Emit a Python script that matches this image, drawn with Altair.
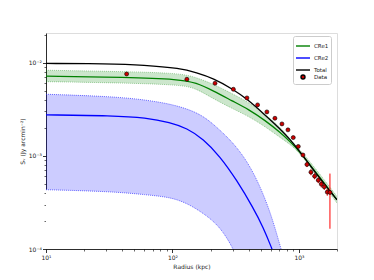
import math
import altair as alt
import pandas as pd

# ---- data ----
data_r = [43.4, 130, 217, 303, 388, 471, 558, 646, 734, 819, 902, 988, 1076,
          1157, 1245, 1331, 1422, 1503, 1586, 1675, 1759]
data_s = [7.56e-3, 6.63e-3, 6.01e-3, 5.18e-3, 4.18e-3, 3.52e-3, 2.96e-3, 2.53e-3,
          2.20e-3, 1.90e-3, 1.57e-3, 1.26e-3, 1.02e-3, 8.07e-4, 6.68e-4, 6.05e-4,
          5.48e-4, 4.97e-4, 4.65e-4, 4.08e-4, 4.05e-4]
data_err = [2.2e-4, 2.0e-4, 1.8e-4, 1.5e-4, 1.2e-4, 1.0e-4, 0.9e-4, 0.75e-4,
            0.65e-4, 0.55e-4, 0.45e-4, 0.4e-4, 0.35e-4, 5e-5, 5e-5, 4.5e-5,
            4e-5, 4e-5, 3.5e-5, 3.5e-5, 2.4e-4]

total_r = [10, 30, 60, 115, 155, 210, 300, 390, 520, 710, 850, 1020, 1380, 2000]
total_s = [9.8e-3, 9.75e-3, 9.45e-3, 8.7e-3, 7.8e-3, 6.8e-3, 5.2e-3, 4.05e-3,
           2.87e-3, 1.95e-3, 1.5e-3, 1.11e-3, 6.3e-4, 3.37e-4]

cre1_r = [10, 43, 115, 153, 210, 300, 400, 540, 720, 850, 1018, 1380, 2000]
cre1_s = [7.15e-3, 6.98e-3, 6.62e-3, 6.1e-3, 5.0e-3, 3.85e-3, 3.15e-3, 2.4e-3,
          1.76e-3, 1.42e-3, 1.11e-3, 6.5e-4, 3.37e-4]
cre1_lo = [6.25e-3, 6.05e-3, 5.77e-3, 5.32e-3, 4.1e-3, 3.2e-3, 2.65e-3, 2.06e-3,
           1.55e-3, 1.33e-3, 1.07e-3, 6.1e-4, 3.11e-4]
cre1_hi = [8.29e-3, 8.01e-3, 7.7e-3, 6.95e-3, 5.9e-3, 4.6e-3, 3.75e-3, 2.8e-3,
           2.0e-3, 1.51e-3, 1.16e-3, 7.08e-4, 3.66e-4]

cre2_r = [10, 33.6, 61.8, 96, 130, 175, 237, 322, 436, 523, 608, 650]
cre2_s = [2.75e-3, 2.7e-3, 2.57e-3, 2.28e-3, 1.98e-3, 1.52e-3, 9.9e-4, 5.5e-4,
          2.75e-4, 1.7e-4, 1.03e-4, 8e-5]

band2_r = [10, 33.6, 61.8, 95.6, 130, 175, 237, 322, 436, 590, 721, 760]
band2_hi = [4.58e-3, 4.33e-3, 3.98e-3, 3.6e-3, 3.2e-3, 2.7e-3, 1.9e-3, 1.26e-3,
            6.9e-4, 2.64e-4, 1.0e-4, 8e-5]
band2_lo_r = [10, 33.6, 61.8, 95.6, 130, 175, 237, 302, 320]
band2_lo = [4.33e-4, 4.14e-4, 3.82e-4, 3.6e-4, 3.11e-4, 2.43e-4, 1.75e-4, 1.02e-4, 8e-5]

series_names = ["CRe1", "CRe2", "Total", "Data"]
series_stroke = ["#008000", "#0000ff", "#000000", "#000000"]
series_fill = ["#008000", "#0000ff", "#000000", "#cc0000"]
series_shapes = ["stroke", "stroke", "stroke", "circle"]
series_sizes = [196, 196, 196, 16]

x_major = [10, 100, 1000]
x_major_labels = ["10¹", "10²", "10³"]
x_minor = [20, 30, 40, 50, 60, 70, 80, 90, 200, 300, 400, 500, 600, 700, 800, 900, 2000]
y_major = [1e-4, 1e-3, 1e-2]
y_major_labels = ["10⁻⁴", "10⁻³", "10⁻²"]
y_minor = [2e-4, 3e-4, 4e-4, 5e-4, 6e-4, 7e-4, 8e-4, 9e-4,
           2e-3, 3e-3, 4e-3, 5e-3, 6e-3, 7e-3, 8e-3, 9e-3, 2e-2]

x_domain = [10, 2000]
y_domain = [1e-4, 2.08e-2]

FONT = "DejaVu Sans"
CURVE = "basis"

# ---- tables ----
df_data = pd.DataFrame({"r": data_r, "s": data_s,
                        "lo": [s - e for s, e in zip(data_s, data_err)],
                        "hi": [s + e for s, e in zip(data_s, data_err)],
                        "series": "Data"})
df_lines = pd.concat([
    pd.DataFrame({"r": cre2_r, "s": cre2_s, "series": "CRe2"}),
    pd.DataFrame({"r": cre1_r, "s": cre1_s, "series": "CRe1"}),
    pd.DataFrame({"r": total_r, "s": total_s, "series": "Total"}),
])
df_band1 = pd.DataFrame({"r": cre1_r, "lo": cre1_lo, "hi": cre1_hi})
df_band2 = pd.concat([
    pd.DataFrame({"r": band2_r, "s": band2_hi, "edge": "hi"}),
    pd.DataFrame({"r": band2_lo_r, "s": band2_lo, "edge": "lo"}),
])

xs = alt.Scale(type="log", domain=x_domain, nice=False)
ys = alt.Scale(type="log", domain=y_domain, nice=False)

IS_MAJOR = "abs(log(datum.value)/log(10) - round(log(datum.value)/log(10))) < 0.001"


def lab_expr(vals, labels):
    parts = []
    for v, l in zip(vals, labels):
        parts.append(f"abs(log(datum.value)/log(10) - ({math.log10(v)})) < 0.001 ? '{l}'")
    return " : ".join(parts) + " : ''"


common = dict(grid=False, tickColor="#000", domainColor="#000",
              domainWidth=0.8, labelFontSize=6, titleFontSize=6, labelFont=FONT,
              titleFont=FONT, labelColor="#222", titleColor="#222",
              titleFontWeight="normal", labelFlush=False, labelOverlap=False,
              tickSize={"condition": {"test": IS_MAJOR, "value": 3.5}, "value": 2},
              tickWidth={"condition": {"test": IS_MAJOR, "value": 0.8}, "value": 0.6})
x_axis = alt.Axis(values=x_major + x_minor, labelExpr=lab_expr(x_major, x_major_labels),
                  title="Radius (kpc)", labelPadding=1.5,
                  titlePadding=3, orient="bottom", **common)
y_axis = alt.Axis(values=y_major + y_minor, labelExpr=lab_expr(y_major, y_major_labels),
                  title="Sᵥ (Jy arcmin⁻²)", labelPadding=1,
                  titlePadding=3, orient="left", **common)

stroke_scale = alt.Scale(domain=series_names, range=series_stroke)

legend = alt.Legend(
    title=None, orient="none", legendX=247, legendY=3,
    fillColor="#ffffff", strokeColor="#cccccc", padding=2, cornerRadius=2,
    labelFontSize=5.5, labelFont=FONT, labelColor="#222", labelOffset=3,
    symbolStrokeWidth=1.4, rowPadding=-4.5, symbolOpacity=1)

# blue band (filled down past the bottom, then the region under the lower edge is whitened)
band2_area = alt.Chart(pd.DataFrame({"r": band2_r, "hi": band2_hi})).mark_area(
    color="#0000ff", opacity=0.2, clip=True, interpolate=CURVE).encode(
    x=alt.X("r:Q", scale=xs, axis=x_axis),
    y=alt.Y("hi:Q", scale=ys, axis=y_axis),
    y2=alt.Y2(datum=1e-5))
band2_lo_area = alt.Chart(pd.DataFrame({"r": band2_lo_r, "lo": band2_lo})).mark_area(
    color="#ffffff", opacity=1, clip=True, interpolate=CURVE).encode(
    x=alt.X("r:Q", scale=xs), y=alt.Y("lo:Q", scale=ys), y2=alt.Y2(datum=1e-5))
band2_edges = alt.Chart(df_band2).mark_line(
    color="#3333ff", strokeWidth=0.7, strokeDash=[1, 1], clip=True,
    interpolate=CURVE).encode(
    x=alt.X("r:Q", scale=xs), y=alt.Y("s:Q", scale=ys), detail="edge:N")

band1_area = alt.Chart(df_band1).mark_area(
    color="#008000", opacity=0.2, clip=True, interpolate=CURVE).encode(
    x=alt.X("r:Q", scale=xs), y=alt.Y("hi:Q", scale=ys), y2="lo:Q")
band1_edges = alt.Chart(pd.concat([
    pd.DataFrame({"r": cre1_r, "s": cre1_hi, "edge": "hi"}),
    pd.DataFrame({"r": cre1_r, "s": cre1_lo, "edge": "lo"})])).mark_line(
    color="#008000", strokeWidth=0.6, strokeDash=[1, 1], opacity=0.6, clip=True,
    interpolate=CURVE).encode(
    x=alt.X("r:Q", scale=xs), y=alt.Y("s:Q", scale=ys), detail="edge:N")

lines = alt.Chart(df_lines).mark_line(strokeWidth=1.3, clip=True,
                                      interpolate=CURVE).encode(
    x=alt.X("r:Q", scale=xs), y=alt.Y("s:Q", scale=ys),
    stroke=alt.Stroke("series:N", scale=stroke_scale, legend=legend),
    order=alt.Order("r:Q"))

errbars = alt.Chart(df_data).mark_rule(color="#ff0000", strokeWidth=1, clip=True).encode(
    x=alt.X("r:Q", scale=xs), y=alt.Y("lo:Q", scale=ys), y2="hi:Q")

points = alt.Chart(df_data).mark_point(filled=True, strokeWidth=0.6, opacity=1,
                                       clip=True).encode(
    x=alt.X("r:Q", scale=xs), y=alt.Y("s:Q", scale=ys),
    fill=alt.Fill("series:N", scale=alt.Scale(domain=series_names, range=series_fill),
                  legend=legend),
    stroke=alt.Stroke("series:N", scale=stroke_scale, legend=legend),
    shape=alt.Shape("series:N", scale=alt.Scale(domain=series_names, range=series_shapes),
                    legend=legend),
    size=alt.Size("series:N", scale=alt.Scale(type="ordinal", domain=series_names,
                                              range=series_sizes),
                  legend=legend))

chart = alt.layer(
    band2_area, band2_lo_area, band2_edges, band1_area, band1_edges, lines,
    errbars, points
).properties(
    width=291, height=216,
    autosize=alt.AutoSizeParams(type="none"),
    padding={"left": 38, "top": 25, "right": 29, "bottom": 23},
).configure_view(stroke="#000", strokeWidth=0.8).configure(background="#ffffff")

chart.save("out.html", embed_options={"renderer": "svg", "actions": False})
